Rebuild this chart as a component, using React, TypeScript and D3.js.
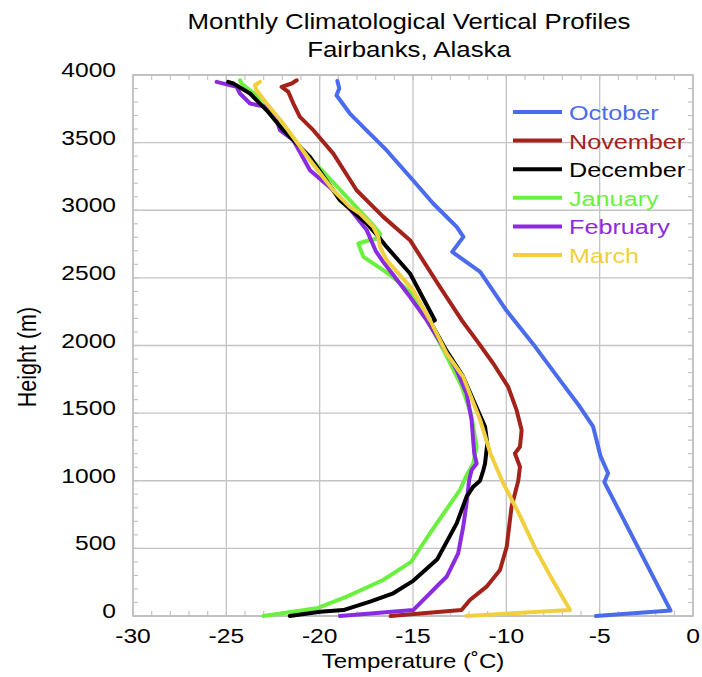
import React from "react";
import * as d3 from "d3";

const W = 702;
const H = 677;

const titleLines = ["Monthly Climatological Vertical Profiles", "Fairbanks, Alaska"];
const xLabel = "Temperature (˚C)";
const yLabel = "Height (m)";

const xTicks = [-30, -25, -20, -15, -10, -5, 0];
const yTicks = [0, 500, 1000, 1500, 2000, 2500, 3000, 3500, 4000];

const months = ["October", "November", "December", "January", "February", "March"];
const monthColors = ["#4b6bed", "#a3231a", "#000000", "#6cf040", "#8a2be2", "#f0d040"];

// [temperature °C, height m]
const october: [number, number][] = [
  [-5.2, 0], [-1.2, 40], [-4.75, 990], [-4.55, 1055], [-4.95, 1180], [-5.35, 1400],
  [-6.06, 1547], [-7.13, 1744], [-8.45, 1990], [-10.0, 2260], [-11.4, 2545], [-12.9, 2692],
  [-12.3, 2803], [-12.66, 2877], [-13.38, 2976], [-13.92, 3050], [-15.0, 3222], [-16.42, 3444],
  [-17.5, 3592], [-18.38, 3715], [-19.1, 3850], [-18.95, 3900], [-19.05, 3956],
];
const november: [number, number][] = [
  [-16.2, 0], [-12.4, 44], [-11.95, 118], [-11.06, 217], [-10.34, 340], [-9.98, 512],
  [-9.72, 808], [-9.36, 1000], [-9.27, 1103], [-9.54, 1202], [-9.27, 1251], [-9.18, 1375],
  [-9.45, 1522], [-9.9, 1694], [-10.7, 1867], [-11.6, 2040], [-12.39, 2187], [-13.56, 2434],
  [-15.16, 2779], [-16.59, 2951], [-17.13, 3025], [-18.02, 3148], [-19.27, 3419], [-20.34, 3592],
  [-21.06, 3690], [-21.41, 3789], [-21.68, 3875], [-22.04, 3912], [-21.5, 3937], [-21.23, 3961],
];
const december: [number, number][] = [
  [-21.6, 0], [-19.98, 32], [-18.73, 44], [-17.3, 106], [-16.06, 168], [-14.99, 260],
  [-13.7, 420], [-12.66, 685], [-12.13, 882], [-11.77, 956], [-11.41, 1000], [-11.23, 1079],
  [-11.14, 1128], [-11.02, 1276], [-11.14, 1399], [-11.65, 1560], [-12.35, 1780], [-13.2, 1960],
  [-14.05, 2170], [-13.83, 2187], [-15.16, 2532], [-16.41, 2729], [-16.77, 2791], [-17.48, 2902],
  [-18.91, 3074], [-20.52, 3394], [-21.95, 3592], [-22.84, 3739], [-23.73, 3863], [-24.63, 3937],
  [-24.9, 3949],
];
const january: [number, number][] = [
  [-23.02, 0], [-20.16, 57], [-18.55, 143], [-16.6, 266], [-15.1, 400], [-14.1, 610],
  [-13.3, 770], [-12.49, 931], [-12.13, 1040], [-11.77, 1128], [-11.59, 1251], [-11.9, 1500],
  [-12.4, 1700], [-13.3, 1950], [-14.2, 2180], [-15.2, 2400], [-15.88, 2483], [-16.59, 2557],
  [-17.66, 2655], [-17.93, 2754], [-17.21, 2784], [-16.77, 2791], [-16.77, 2828], [-17.21, 2902],
  [-18.55, 3099], [-21.06, 3468], [-22.3, 3666], [-23.02, 3813], [-23.73, 3887], [-24.18, 3937],
  [-24.27, 3961],
];
const february: [number, number][] = [
  [-18.91, 0], [-14.99, 44], [-14.27, 143], [-13.56, 242], [-13.2, 290], [-12.58, 463],
  [-12.31, 660], [-12.13, 833], [-11.99, 1005], [-11.86, 1079], [-11.59, 1128], [-11.72, 1202],
  [-11.86, 1448], [-12.13, 1646], [-12.66, 1818], [-13.38, 1990], [-14.27, 2187], [-15.16, 2360],
  [-16.59, 2617], [-17.0, 2700], [-17.48, 2853], [-18.55, 3040], [-19.27, 3148], [-20.52, 3296],
  [-21.41, 3518], [-22.13, 3592], [-22.3, 3666], [-22.84, 3764], [-23.73, 3789], [-24.27, 3863],
  [-24.45, 3912], [-25.52, 3949],
];
const march: [number, number][] = [
  [-12.13, 0], [-6.59, 44], [-7.5, 260], [-8.45, 500], [-9.3, 750], [-10.16, 980],
  [-10.85, 1200], [-11.4, 1448], [-12.31, 1768], [-13.2, 1941], [-14.09, 2187], [-14.99, 2409],
  [-16.41, 2631], [-16.77, 2729], [-16.86, 2803], [-17.13, 2877], [-17.84, 2976], [-18.38, 3025],
  [-19.27, 3148], [-20.52, 3370], [-21.95, 3641], [-22.84, 3789], [-23.38, 3887], [-23.47, 3924],
  [-23.2, 3949],
];

const seriesData = [october, november, december, january, february, march];
const drawOrder = [0, 1, 3, 4, 2, 5];

const FONT = "'Liberation Sans', Arial, Helvetica, sans-serif";
const SX = 1.2;

function SText({ x, y, size, anchor = "start", fill = "#000", children, rotate = 0 }: any) {
  return (
    <text
      transform={`translate(${x},${y}) scale(${SX},1)${rotate ? ` rotate(${rotate})` : ""}`}
      fontFamily={FONT}
      fontSize={size}
      textAnchor={anchor}
      fill={fill}
    >
      {children}
    </text>
  );
}

export default function App() {
  const x = d3.scaleLinear().domain([-30, 0]).range([133, 693]);
  const y = d3.scaleLinear().domain([0, 4000]).range([616, 75]);
  const line = d3
    .line<[number, number]>()
    .x((d) => x(d[0]))
    .y((d) => y(d[1]));

  const xMinor = d3.range(-30, 0.01, 1);
  const yMinor = d3.range(0, 4000.1, 100);
  const [x0, x1] = x.range();
  const [y0, y1] = y.range();
  const gridColor = "#c4c4c4";
  const tl = 5;

  return (
    <svg width={W} height={H} style={{ position: "absolute", left: 0, top: 0, background: "#fff" }}>
      <rect x={0} y={0} width={W} height={H} fill="#fff" />
      {/* grid */}
      {xTicks.map((t) => (
        <line key={"gx" + t} x1={x(t)} x2={x(t)} y1={y0} y2={y1} stroke={gridColor} strokeWidth={1.3} />
      ))}
      {yTicks.map((t) => (
        <line key={"gy" + t} x1={x0} x2={x1} y1={y(t)} y2={y(t)} stroke={gridColor} strokeWidth={1.3} />
      ))}
      {/* minor ticks */}
      {xMinor.map((t) => (
        <g key={"mx" + t}>
          <line x1={x(t)} x2={x(t)} y1={y0} y2={y0 - tl} stroke={gridColor} strokeWidth={1.2} />
          <line x1={x(t)} x2={x(t)} y1={y1} y2={y1 + tl} stroke={gridColor} strokeWidth={1.2} />
        </g>
      ))}
      {yMinor.map((t) => (
        <g key={"my" + t}>
          <line x1={x0} x2={x0 + tl} y1={y(t)} y2={y(t)} stroke={gridColor} strokeWidth={1.2} />
          <line x1={x1} x2={x1 - tl} y1={y(t)} y2={y(t)} stroke={gridColor} strokeWidth={1.2} />
        </g>
      ))}
      <rect x={x0} y={y1} width={x1 - x0} height={y0 - y1} fill="none" stroke="#bdbdbd" strokeWidth={1.5} />

      {/* series */}
      {drawOrder.map((i) => (
        <path
          key={months[i]}
          d={line(seriesData[i]) || ""}
          fill="none"
          stroke={monthColors[i]}
          strokeWidth={4}
          strokeLinejoin="round"
          strokeLinecap="round"
        />
      ))}

      {/* tick labels */}
      {xTicks.map((t) => (
        <SText key={"xl" + t} x={x(t)} y={643} size={20.5} anchor="middle">
          {String(t)}
        </SText>
      ))}
      {yTicks.map((t) => (
        <SText key={"yl" + t} x={116} y={y(t) + 2} size={20.5} anchor="end">
          {String(t)}
        </SText>
      ))}

      {/* axis titles */}
      <SText x={413} y={668} size={20} anchor="middle">
        {xLabel}
      </SText>
      <SText x={36} y={357} size={21.5} anchor="middle" rotate={-90}>
        {yLabel}
      </SText>

      {/* title */}
      {titleLines.map((t, i) => (
        <SText key={t} x={409} y={29 + i * 28} size={21.5} anchor="middle">
          {t}
        </SText>
      ))}

      {/* legend */}
      {months.map((m, i) => {
        const ly = 112 + i * 28.6;
        return (
          <g key={"lg" + m}>
            <line x1={513} x2={562} y1={ly} y2={ly} stroke={monthColors[i]} strokeWidth={4} />
            <SText x={569} y={ly + 8} size={21} fill={monthColors[i]}>
              {m}
            </SText>
          </g>
        );
      })}
    </svg>
  );
}
